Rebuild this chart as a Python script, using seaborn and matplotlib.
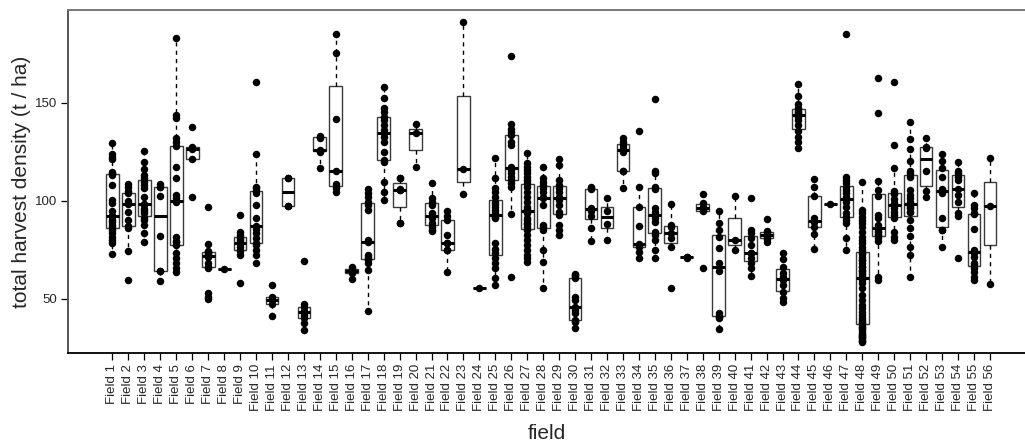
import matplotlib
matplotlib.use("Agg")
import matplotlib.pyplot as plt
import seaborn as sns
import pandas as pd

# Harvest densities (t / ha) recorded per field
field_01 = [129.2, 123.8, 122.1, 121.3, 114.8, 113.9, 113.1, 108, 100.4, 98.7, 95, 92.4, 92, 90, 89.3, 87.6, 86.8, 85.1, 83.4, 81.7, 80, 78.3, 72.7]
field_02 = [108.5, 106.8, 105, 104, 100, 99, 98.5, 94, 90, 87, 86, 74.5, 59.6]
field_03 = [125.5, 119.9, 116.2, 113.1, 111.4, 109.7, 108, 106.3, 102, 98, 98.5, 96, 95, 93.6, 91, 90, 87.6, 83.4, 79.1]
field_04 = [108.5, 106.8, 106.8, 102.6, 82, 64.4, 64.4, 59.1]
field_05 = [182.7, 143.7, 142, 131.8, 130.1, 128.1, 117.3, 111.7, 102.9, 101.2, 100, 99.5, 81.7, 79.5, 78.8, 77.4, 73.2, 70.6, 68.1, 65.5, 63.8]
field_06 = [137.7, 127.5, 126.4, 121.1, 101.7]
field_07 = [97, 78, 74.5, 74, 73.7, 72.3, 72, 71.1, 72.8, 68.1, 66.4, 65.6, 52.8, 51.1, 49.9]
field_08 = [65.2]
field_09 = [92.7, 84.2, 82.5, 81, 80, 78.8, 77.8, 76.6, 75, 74.4, 72.3, 58.2]
field_10 = [160.6, 123.8, 107.2, 106.3, 105, 104, 97.8, 91, 87.3, 85.6, 83.4, 80.8, 78.3, 77.4, 74.9, 72.3, 68.1]
field_11 = [57.1, 51.1, 49.4, 47.2, 41.4]
field_12 = [111.4, 111.4, 97.5, 97.5]
field_13 = [69.2, 47.6, 45.6, 44, 43.1, 42, 40, 37.5, 34.1]
field_14 = [133, 132.6, 132, 125.8, 125.3, 125, 116.5]
field_15 = [184.9, 175.1, 141.4, 115.3, 108.5, 106.6, 104.6]
field_16 = [66, 65.2, 64.2, 63, 60.1]
field_17 = [105.8, 103.7, 101.7, 99.5, 97.8, 95.2, 80, 78.8, 72.3, 71.5, 70.5, 69.8, 68.1, 64.7, 43.8]
field_18 = [158.1, 152.2, 147.1, 145.4, 142.8, 141.1, 138.6, 136, 134.3, 132.6, 130.1, 125, 120.7, 119.9, 109.4, 104.6, 100.4]
field_19 = [111.7, 111.7, 106, 105.5, 105.5, 88.5, 88.5]
field_20 = [139.1, 134.3, 117]
field_21 = [109.2, 101.2, 99.5, 97.8, 93.6, 92.4, 91, 88.5, 86.8, 85, 84.6]
field_22 = [94.7, 92, 90, 82.5, 78.6, 78.5, 75, 74.9, 63.8]
field_23 = [190.9, 116, 103.3]
field_24 = [55.6]
field_25 = [121.6, 111.4, 106.3, 104.6, 102.1, 99.5, 98.1, 97, 95.3, 93.6, 91.9, 91, 78.3, 75.2, 73.2, 70.6, 68.1, 65.5, 60.4, 57]
field_26 = [173.9, 138.9, 136.8, 135.2, 133.5, 130.1, 128.4, 117.3, 116.5, 115.6, 113.9, 112.2, 110.6, 108.9, 107.2, 93.1, 61.3]
field_27 = [124.4, 119, 117.3, 115.6, 113.9, 112.2, 110.6, 108.9, 107.2, 104.6, 102.1, 99.5, 97, 96, 95.3, 94, 93.6, 91, 90, 88.5, 88, 86.8, 85, 82.5, 80, 77.4, 74.9, 72.3, 70.6, 68.9]
field_28 = [117.3, 111.4, 109.7, 108, 106.6, 104.6, 102.1, 101.2, 97.8, 87.6, 86.8, 85.1, 74.9, 68.9, 55.7]
field_29 = [121.3, 118.2, 110.6, 108, 106.3, 104.6, 102.1, 100.4, 97.8, 94.4, 92.7, 87.6, 85.1, 82.5]
field_30 = [62.5, 62.2, 61.4, 60.5, 51.1, 49.4, 46, 44.3, 42.6, 39, 38.7, 38, 35]
field_31 = [107.2, 106.5, 106, 96.4, 94.7, 92.4, 86.3, 79.5]
field_32 = [101.2, 95, 88, 80]
field_33 = [131.8, 130.1, 128.4, 126.7, 125, 115.3, 115.3, 106.6]
field_34 = [135.6, 107.2, 97, 87.3, 78, 77.5, 76.6, 74, 70.6]
field_35 = [151.6, 115.3, 113.9, 107.2, 105.8, 96.1, 94.4, 92.7, 91, 89.3, 84.2, 82.5, 80, 74.9, 70.6]
field_36 = [98.3, 87.6, 86.8, 83.4, 80.8, 76.6, 55.7]
field_37 = [71.4, 71.2, 71.0]
field_38 = [103.4, 99, 97, 95.6, 94.8, 65.6]
field_39 = [94.7, 88.5, 85.1, 81.7, 75.8, 68.1, 64.4, 42.6, 41.5, 40.9, 40.1, 34.6]
field_40 = [102.6, 80, 74.9]
field_41 = [101.5, 85.1, 83.4, 80.8, 77.4, 73.5, 73.2, 70.6, 68.1, 65.5, 61.8]
field_42 = [90.5, 84.7, 83.7, 82.5, 81.3, 80.5, 78.8]
field_43 = [73.2, 70.1, 66, 63.3, 61.3, 59.4, 57, 53.3, 50.2, 48.5]
field_44 = [159.3, 153.5, 149.3, 147.1, 145.5, 145, 144.5, 142.8, 141.1, 138.6, 135.7, 132.6, 130.1, 127]
field_45 = [111.1, 107.2, 102.4, 91.3, 89.6, 89, 86.8, 83, 75.5]
field_46 = [98.3]
field_47 = [184.8, 112.2, 110.6, 108.9, 107.2, 105.5, 103.8, 102.1, 99.5, 97, 93.6, 91.9, 90.2, 88.5, 80.8, 74.9]
field_48 = [109.7, 95.3, 93.6, 91.9, 90.2, 88.5, 86.8, 84.2, 81.7, 80.0, 78.3, 76.6, 74.9, 73.2, 73, 71.5,
            70, 69.8, 68.1, 66.4, 66, 64.7, 64, 63.0, 62, 61.3, 59.6, 57.9, 55.4, 52.0, 49.4, 46.9, 45.2,
            43.5, 41.8, 40.1, 39, 38.4, 37.5, 36.7, 35.5, 35.0, 34, 33.3, 32.2, 31.6, 31, 30.5, 29.9, 29.2,
            28.5, 28.2]
field_49 = [162.7, 144.5, 110.2, 105.5, 102.6, 92.7, 91, 87.6, 84.7, 84, 83, 82.5, 80.8, 79.4, 61.3, 59.6]
field_50 = [160.6, 128.4, 116.5, 105, 103.3, 100.7, 99, 97.8, 96.1, 94.4, 92.7, 91, 84.2, 81.7, 80]
field_51 = [139.9, 131.5, 126.4, 120.4, 115.3, 114, 112.2, 105.5, 102.9, 101.2, 99.5, 98.5, 97.8, 97, 96.1,
            94.4, 94, 90.2, 85.9, 82.2, 76.3, 72.3, 61.3]
field_52 = [132.1, 127.2, 127, 115.3, 105, 102.1]
field_53 = [123.8, 120.4, 116.5, 112.2, 106, 104, 91, 85.1, 85, 76.6]
field_54 = [119.9, 115.3, 113.9, 112.2, 110.6, 105.8, 102.9, 99.5, 93.6, 92.4, 70.6]
field_55 = [103.8, 97.8, 96.1, 93.6, 93, 85.6, 75, 74.5, 73.2, 71.5, 68.1, 67.2, 65.5, 63.8, 61.3, 59.6]
field_56 = [121.6, 97.3, 57.5]

per_field = [
    field_01, field_02, field_03, field_04, field_05, field_06, field_07, field_08,
    field_09, field_10, field_11, field_12, field_13, field_14, field_15, field_16,
    field_17, field_18, field_19, field_20, field_21, field_22, field_23, field_24,
    field_25, field_26, field_27, field_28, field_29, field_30, field_31, field_32,
    field_33, field_34, field_35, field_36, field_37, field_38, field_39, field_40,
    field_41, field_42, field_43, field_44, field_45, field_46, field_47, field_48,
    field_49, field_50, field_51, field_52, field_53, field_54, field_55, field_56,
]
field_names = [f"Field {i}" for i in range(1, len(per_field) + 1)]
y_ticks = [50, 100, 150]

records = [(name, v) for name, vals in zip(field_names, per_field) for v in vals]
df = pd.DataFrame(records, columns=["field", "harvest"])

sns.set_style("ticks")
plt.rcParams["font.family"] = ["Liberation Sans", "DejaVu Sans"]

fig = plt.figure(figsize=(10.25, 4.48), dpi=100)
ax = fig.add_axes([0.0666, 0.2121, 0.9334, 0.7656])

sns.boxplot(
    data=df, x="field", y="harvest", order=field_names, ax=ax,
    width=0.8, showfliers=False, showcaps=False,
    color="white", linecolor="#3a3a3a", linewidth=1.0,
    whiskerprops=dict(color="black", linestyle=(0, (3, 3)), linewidth=1.0),
    medianprops=dict(color="black", linewidth=2.2),
)
sns.stripplot(
    data=df, x="field", y="harvest", order=field_names, ax=ax,
    jitter=False, color="black", size=5.4, linewidth=0, zorder=4,
)

ax.set_xlim(-2.77, 57.2)
ax.set_ylim(22.4, 197.2)
ax.set_yticks(y_ticks)
ax.set_yticklabels([str(t) for t in y_ticks])

ax.tick_params(axis="x", labelrotation=90, labelsize=9.5, length=5, width=0.9, color="black", pad=3)
ax.tick_params(axis="y", labelsize=9.5, length=5, width=0.9, color="black", pad=3)

ax.set_xlabel("field", fontsize=15, labelpad=9)
ax.set_ylabel("total harvest density (t / ha)", fontsize=15, labelpad=3)

ax.spines["right"].set_visible(False)
ax.spines["top"].set_color("#777777")
ax.spines["left"].set_color("#555555")
ax.spines["bottom"].set_color("#111111")
for s in ["top", "left", "bottom"]:
    ax.spines[s].set_linewidth(1.4)

fig.savefig("out.png", dpi=100)
